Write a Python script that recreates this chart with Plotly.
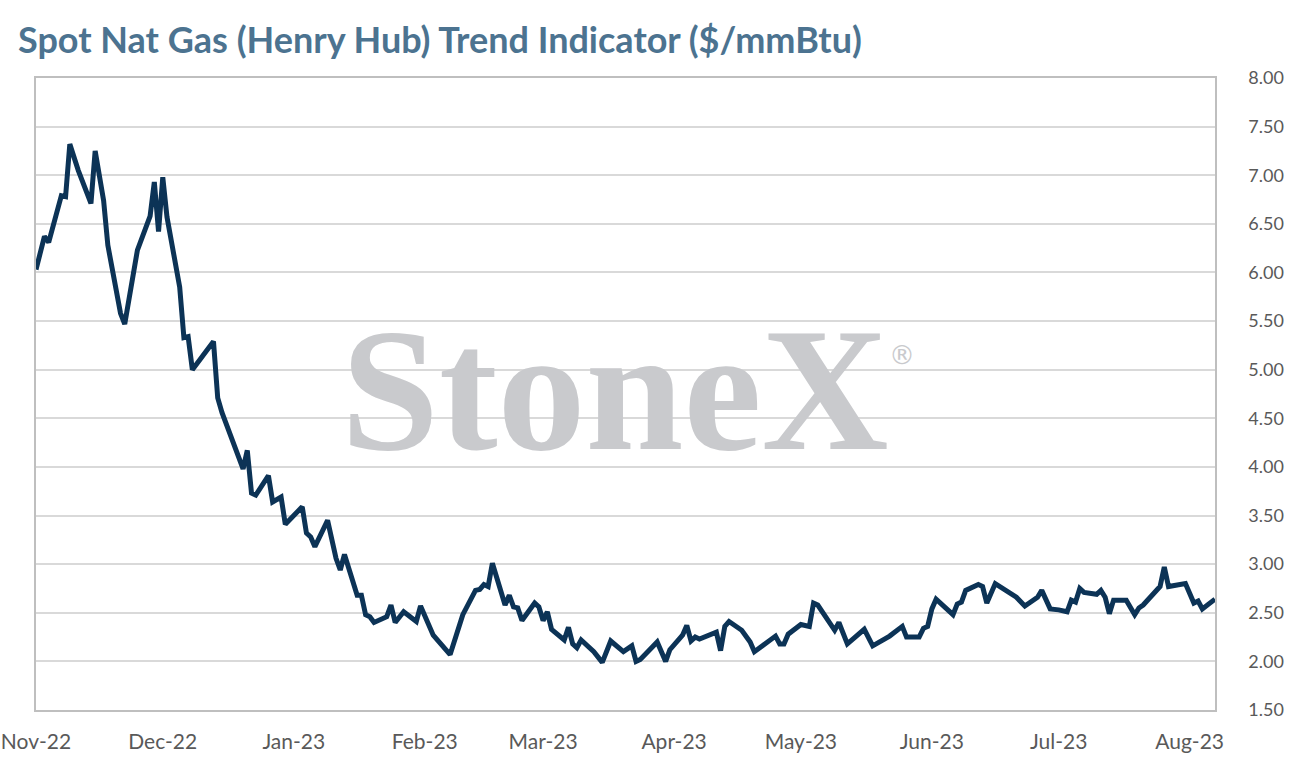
import plotly.graph_objects as go

# values ($/mmBtu)
dates = [
    "2022-11-01", "2022-11-03", "2022-11-04", "2022-11-07", "2022-11-08",
    "2022-11-09", "2022-11-11", "2022-11-14", "2022-11-15", "2022-11-17",
    "2022-11-18", "2022-11-21", "2022-11-22", "2022-11-25", "2022-11-28",
    "2022-11-29", "2022-11-30", "2022-12-01", "2022-12-02", "2022-12-05",
    "2022-12-06", "2022-12-07", "2022-12-08", "2022-12-09", "2022-12-13",
    "2022-12-14", "2022-12-15", "2022-12-20", "2022-12-21", "2022-12-22",
    "2022-12-23", "2022-12-26", "2022-12-27", "2022-12-29", "2022-12-30",
    "2023-01-03", "2023-01-04", "2023-01-05", "2023-01-06", "2023-01-09",
    "2023-01-11", "2023-01-12", "2023-01-13", "2023-01-16", "2023-01-17",
    "2023-01-18", "2023-01-19", "2023-01-20", "2023-01-23", "2023-01-24",
    "2023-01-25", "2023-01-27", "2023-01-30", "2023-01-31", "2023-02-03",
    "2023-02-07", "2023-02-10", "2023-02-13", "2023-02-14", "2023-02-15",
    "2023-02-16", "2023-02-17", "2023-02-20", "2023-02-21", "2023-02-22",
    "2023-02-23", "2023-02-24", "2023-02-27", "2023-02-28", "2023-03-01",
    "2023-03-02", "2023-03-03", "2023-03-06", "2023-03-07", "2023-03-08",
    "2023-03-09", "2023-03-10", "2023-03-13", "2023-03-15", "2023-03-17",
    "2023-03-20", "2023-03-22", "2023-03-23", "2023-03-24", "2023-03-28",
    "2023-03-30", "2023-03-31", "2023-04-03", "2023-04-04", "2023-04-05",
    "2023-04-06", "2023-04-07", "2023-04-11", "2023-04-12", "2023-04-13",
    "2023-04-14", "2023-04-17", "2023-04-19", "2023-04-20", "2023-04-25",
    "2023-04-26", "2023-04-27", "2023-04-28", "2023-05-01", "2023-05-03",
    "2023-05-04", "2023-05-05", "2023-05-09", "2023-05-10", "2023-05-12",
    "2023-05-16", "2023-05-18", "2023-05-22", "2023-05-25", "2023-05-26",
    "2023-05-29", "2023-05-30", "2023-05-31", "2023-06-01", "2023-06-02",
    "2023-06-06", "2023-06-07", "2023-06-08", "2023-06-09", "2023-06-12",
    "2023-06-13", "2023-06-14", "2023-06-16", "2023-06-20", "2023-06-21",
    "2023-06-23", "2023-06-26", "2023-06-27", "2023-06-29", "2023-07-01",
    "2023-07-03", "2023-07-04", "2023-07-05", "2023-07-06", "2023-07-07",
    "2023-07-10", "2023-07-11", "2023-07-12", "2023-07-13", "2023-07-14",
    "2023-07-17", "2023-07-19", "2023-07-20", "2023-07-21", "2023-07-25",
    "2023-07-26", "2023-07-27", "2023-07-31", "2023-08-02", "2023-08-03",
    "2023-08-04", "2023-08-07",
]
prices = [
    6.03, 6.37, 6.31, 6.79, 6.78,
    7.32, 7.05, 6.71, 7.25, 6.74,
    6.28, 5.58, 5.47, 6.23, 6.58,
    6.93, 6.42, 6.98, 6.57, 5.85,
    5.33, 5.34, 5.00, 5.06, 5.29,
    4.71, 4.56, 3.98, 4.17, 3.73,
    3.71, 3.91, 3.64, 3.69, 3.41,
    3.59, 3.32, 3.28, 3.18, 3.45,
    3.06, 2.94, 3.10, 2.68, 2.68,
    2.48, 2.46, 2.40, 2.46, 2.58,
    2.40, 2.51, 2.41, 2.57, 2.27,
    2.07, 2.48, 2.73, 2.74, 2.79,
    2.77, 3.01, 2.58, 2.68, 2.56,
    2.55, 2.42, 2.60, 2.56, 2.42,
    2.51, 2.33, 2.22, 2.35, 2.18,
    2.14, 2.22, 2.10, 1.99, 2.21,
    2.10, 2.16, 2.00, 2.02, 2.20,
    2.00, 2.12, 2.27, 2.37, 2.21,
    2.25, 2.23, 2.30, 2.11, 2.36,
    2.41, 2.32, 2.20, 2.10, 2.26,
    2.18, 2.18, 2.28, 2.38, 2.36,
    2.60, 2.58, 2.32, 2.40, 2.18,
    2.33, 2.16, 2.26, 2.36, 2.25,
    2.25, 2.34, 2.36, 2.54, 2.64,
    2.48, 2.59, 2.61, 2.73, 2.79,
    2.77, 2.60, 2.80, 2.68, 2.66,
    2.57, 2.66, 2.73, 2.54, 2.53,
    2.51, 2.63, 2.61, 2.75, 2.71,
    2.69, 2.73, 2.66, 2.49, 2.63,
    2.63, 2.48, 2.55, 2.58, 2.77,
    2.97, 2.77, 2.80, 2.60, 2.62,
    2.54, 2.64,
]

fig = go.Figure()
fig.add_trace(go.Scatter(x=dates, y=prices, mode="lines",
                         line=dict(color="#0c3356", width=5),
                         hoverinfo="x+y", showlegend=False))

# watermark
fig.add_annotation(text="<b>StoneX</b>", x=0.4915, y=0.507, xref="paper",
                   yref="paper", showarrow=False, xanchor="center",
                   yanchor="middle",
                   font=dict(family="Liberation Serif", size=176,
                             color="#c9cacd"))
fig.add_annotation(text="®", x=0.722, y=0.562, xref="paper",
                   yref="paper", showarrow=False, xanchor="left",
                   yanchor="middle",
                   font=dict(family="DejaVu Sans", size=26, color="#c9cacd"))

fig.update_layout(
    width=1294, height=771,
    margin=dict(l=36, r=79, t=78, b=61),
    paper_bgcolor="white", plot_bgcolor="white",
    title=dict(text="<b>Spot Nat Gas (Henry Hub) Trend Indicator ($/mmBtu)</b>",
               x=18 / 1294, xanchor="left", xref="container",
               y=1 - 40 / 771, yanchor="middle", yref="container",
               pad=dict(l=0, r=0, t=0, b=0),
               font=dict(family="Lato", size=36, color="#4c7390")),
    font=dict(family="Lato", size=21, color="#595959"),
)
fig.update_xaxes(type="date", range=["2022-11-01", "2023-08-07"],
                 dtick="M1", tick0="2022-11-01", tickformat="%b-%y",
                 showgrid=False, showline=True, mirror=True,
                 linecolor="#bfbfbf", linewidth=1.5, automargin=False,
                 ticklabeloverflow="allow",
                 ticks="outside", ticklen=12, tickcolor="rgba(0,0,0,0)",
                 tickfont=dict(size=21, color="#595959"))
fig.update_yaxes(range=[1.5, 8.0], dtick=0.5, tick0=1.5, tickformat=".2f",
                 side="right", showgrid=True, gridcolor="#d9d9d9",
                 gridwidth=1.5, showline=True, mirror=True,
                 linecolor="#bfbfbf", linewidth=1.5, zeroline=False,
                 automargin=False,
                 ticks="outside", ticklen=28, tickcolor="rgba(0,0,0,0)",
                 tickfont=dict(size=18, color="#595959"))

# drop the page's default 8px body margin so the figure sits at 0,0
fig.write_html("out.html", config={"displayModeBar": False},
               post_script="document.body.style.margin='0';")
